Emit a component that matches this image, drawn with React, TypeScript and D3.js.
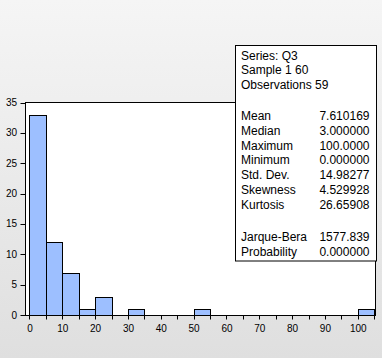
import React from "react";
import * as d3 from "d3";

const binStarts: number[] = [0, 5, 10, 15, 20, 25, 30, 35, 40, 45, 50, 55, 60, 65, 70, 75, 80, 85, 90, 95, 100];
const binCounts: number[] = [33, 12, 7, 1, 3, 0, 1, 0, 0, 0, 1, 0, 0, 0, 0, 0, 0, 0, 0, 0, 1];
const binWidth = 5;
const xLabelTicks: number[] = [0, 10, 20, 30, 40, 50, 60, 70, 80, 90, 100];
const xMinorTicks: number[] = [0, 5, 10, 15, 20, 25, 30, 35, 40, 45, 50, 55, 60, 65, 70, 75, 80, 85, 90, 95, 100, 105];
const yTicks: number[] = [0, 5, 10, 15, 20, 25, 30, 35];

const headerLines: string[] = ["Series: Q3", "Sample 1 60", "Observations 59"];
const statNames: string[] = ["Mean", "Median", "Maximum", "Minimum", "Std. Dev.", "Skewness", "Kurtosis"];
const statValues: string[] = ["7.610169", "3.000000", "100.0000", "0.000000", "14.98277", "4.529928", "26.65908"];
const testNames: string[] = ["Jarque-Bera", "Probability"];
const testValues: string[] = ["1577.839", "0.000000"];

const W = 382;
const H = 358;
const font = "'Liberation Sans', Arial, sans-serif";

export default function App() {
  const plotL = 25.5, plotR = 375.5, plotT = 102.5, plotB = 315.5;
  const x = d3.scaleLinear().domain([-1.2, 105.4]).range([plotL, plotR]);
  const y = d3.scaleLinear().domain([0, 35]).range([315, plotT]);

  const boxL = 235.5, boxR = 376.5, boxT = 45.5, boxB = 261;
  const lh = 14.7;

  return (
    <svg width={W} height={H} style={{ position: "absolute", left: 0, top: 0 }}>
      <defs>
        <linearGradient id="bg" x1="0" y1="0" x2="0" y2="1">
          <stop offset="0" stopColor="#f5f5f5" />
          <stop offset="1" stopColor="#dfdfdf" />
        </linearGradient>
      </defs>
      <rect x={0} y={0} width={W} height={H} fill="url(#bg)" />
      <rect x={plotL} y={plotT} width={plotR - plotL} height={plotB - plotT} fill="#ffffff" stroke="none" />
      {binStarts.map((s, i) =>
        binCounts[i] > 0 ? (
          <rect
            key={i}
            x={Math.round(x(s)) + 0.5}
            y={Math.round(y(binCounts[i])) + 0.5}
            width={Math.round(x(s + binWidth)) - Math.round(x(s))}
            height={Math.round(y(0)) - Math.round(y(binCounts[i]))}
            fill="#9dbfff"
            stroke="#000"
            strokeWidth={1}
          />
        ) : null
      )}
      <rect x={plotL} y={plotT} width={plotR - plotL} height={plotB - plotT} fill="none" stroke="#000" strokeWidth={1} />
      {yTicks.map((t) => (
        <g key={t}>
          <line x1={20.5} x2={plotL} y1={Math.round(y(t)) + 0.5} y2={Math.round(y(t)) + 0.5} stroke="#000" />
          <text x={17} y={y(t) + 3.5} textAnchor="end" fontFamily={font} fontSize={10} fill="#000">
            {t}
          </text>
        </g>
      ))}
      {xMinorTicks.map((t) => (
        <line key={t} x1={Math.round(x(t)) + 0.5} x2={Math.round(x(t)) + 0.5} y1={plotB} y2={plotB + 4} stroke="#000" />
      ))}
      {xLabelTicks.map((t) => (
        <text key={t} x={x(t) + 0.5} y={331.5} textAnchor="middle" fontFamily={font} fontSize={10} fill="#000">
          {t}
        </text>
      ))}
      <rect x={boxL} y={boxT} width={boxR - boxL} height={boxB - boxT} fill="#ffffff" stroke="#000" strokeWidth={1} />
      {headerLines.map((s, i) => (
        <text key={s} x={241} y={59.5 + i * lh} fontFamily={font} fontSize={12} fill="#000">
          {s}
        </text>
      ))}
      {statNames.map((s, i) => (
        <g key={s}>
          <text x={241} y={120.3 + i * lh} fontFamily={font} fontSize={12} fill="#000">
            {s}
          </text>
          <text x={369.5} y={120.3 + i * lh} textAnchor="end" fontFamily={font} fontSize={12} fill="#000">
            {statValues[i]}
          </text>
        </g>
      ))}
      {testNames.map((s, i) => (
        <g key={s}>
          <text x={241} y={240.8 + i * lh} fontFamily={font} fontSize={12} fill="#000">
            {s}
          </text>
          <text x={369.5} y={240.8 + i * lh} textAnchor="end" fontFamily={font} fontSize={12} fill="#000">
            {testValues[i]}
          </text>
        </g>
      ))}
    </svg>
  );
}
